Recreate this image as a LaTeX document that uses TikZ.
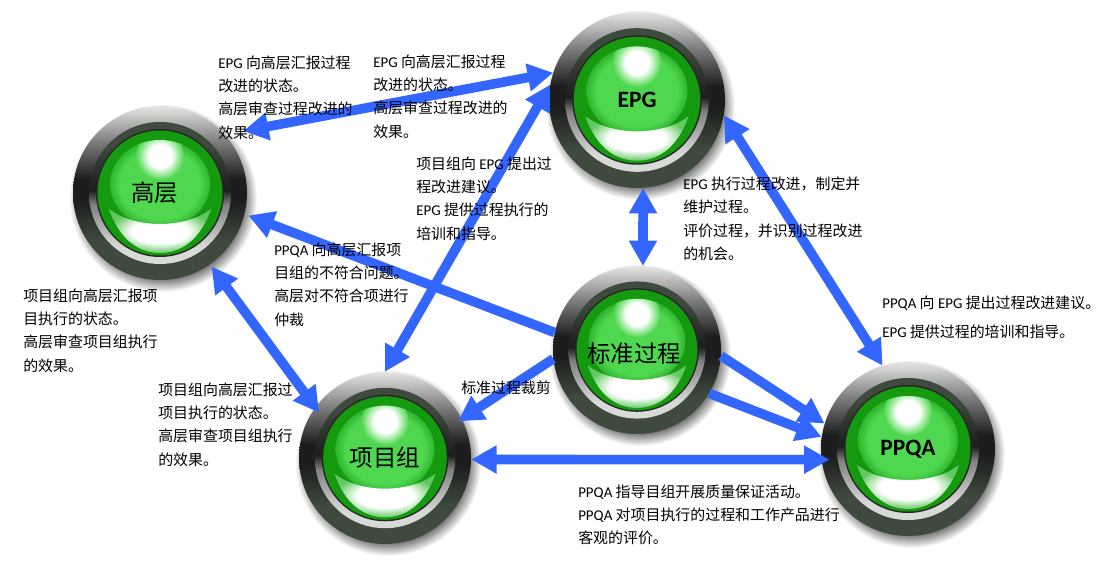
\documentclass[tikz,border=0pt]{standalone}
\usepackage{fontspec}
\setmainfont{Noto Sans CJK SC}
\newfontfamily\latfont{Carlito}
\usetikzlibrary{arrows.meta,backgrounds}
\pgfdeclarelayer{lamps}
\pgfsetlayers{background,lamps,main}
\definecolor{flowblue}{HTML}{3366FF}
\definecolor{bezeltop}{HTML}{E4E6E4}
\definecolor{bezelmid}{HTML}{1C1D1C}
\definecolor{bezellow}{HTML}{3F4A3F}
\definecolor{ringlight}{HTML}{D8DAD8}
\definecolor{greenbase}{HTML}{14990F}
\definecolor{greenlight}{HTML}{4FD84F}
\definecolor{greensoft}{HTML}{2FB52F}
\definecolor{crescentend}{HTML}{62C862}
% a tikz path covers 25bp to 75bp of a shading
\pgfdeclareverticalshading{bezelouter}{100bp}{color(0bp)=(bezellow); color(36bp)=(bezellow); color(48bp)=(bezelmid); color(54bp)=(bezelmid); color(65bp)=(gray); color(75bp)=(bezeltop); color(100bp)=(bezeltop)}
\pgfdeclareverticalshading{bezelinner}{100bp}{color(0bp)=(ringlight); color(31bp)=(ringlight); color(46bp)=(gray); color(51bp)=(bezelmid); color(67bp)=(bezellow); color(100bp)=(bezellow)}
\pgfdeclareradialshading{lampshadow}{\pgfpointorigin}{color(0bp)=(black!75); color(20bp)=(black!75); color(25bp)=(white); color(50bp)=(white)}
\pgfdeclareradialshading{domeshade}{\pgfpointorigin}{color(0bp)=(greenlight); color(20bp)=(greenlight); color(25bp)=(greensoft); color(50bp)=(greensoft)}
\pgfdeclareradialshading{spotshade}{\pgfpointorigin}{color(0bp)=(white); color(12bp)=(white); color(25bp)=(greenlight); color(50bp)=(greenlight)}
\pgfdeclareradialshading{crescentshade}{\pgfpointorigin}{color(0bp)=(white); color(14bp)=(white); color(25bp)=(crescentend); color(50bp)=(crescentend)}
\newcommand{\lat}[1]{{\latfont #1}}
\newcommand{\lampparts}{%
  \shade[shading=bezelouter] (0,0) circle (87);
  \shade[shading=bezelinner] (0,0) circle (71);
  \fill[black!85] (0,0) circle (64);
  \fill[greenbase] (0,0) circle (62.5);
  \shade[shading=domeshade] (0,-9) ellipse (50 and 44);
  \begin{scope}
    \clip (0,-9) ellipse (50 and 44);
    \shade[shading=spotshade] (0,-37) circle (24);
  \end{scope}
  \shade[shading=crescentshade] (-51,16) .. controls (-25,36) and (25,36) .. (51,16)
    .. controls (40,48) and (20,60) .. (0,60) .. controls (-20,60) and (-40,48) .. (-51,16) -- cycle;
}
\tikzset{
  lamp/.style={circle,inner sep=0pt,minimum size=#1*1.5pt,font=\fontsize{17.6}{18}\selectfont},
  flow/.style={line width=7.2pt,color=flowblue,-{Triangle[length=19pt,width=20pt]}},
  biflow/.style={flow,{Triangle[length=19pt,width=20pt]}-{Triangle[length=19pt,width=20pt]}},
  note/.style={anchor=north west,inner sep=0pt,align=left,font=\fontsize{11.2}{17.3}\selectfont}
}
\begin{document}
\begin{tikzpicture}[x=0.75pt,y=-0.75pt]
\useasboundingbox (0,0) rectangle (1119,567);
% lamps
\node[lamp=87] (gaoceng) at (160,193) {高层\kern8pt};
\node[lamp=88] (epg) at (637,100) {\lat{\bfseries EPG}};
\node[lamp=84,text height=20pt] (biaozhun) at (637,350) {标准过程\kern4.5pt};
\node[lamp=86] (xiangmu) at (385,458) {项目组};
\node[lamp=87] (ppqa) at (908,449) {\lat{\bfseries PPQA}};
\begin{scope}[on background layer]
\foreach \n/\r in {gaoceng/87,epg/88,biaozhun/84,xiangmu/86,ppqa/87}
  \shade[shading=lampshadow,shift={(\n)}] (3,5) circle (\r+7);
\end{scope}
\begin{pgfonlayer}{lamps}
\foreach \n/\r in {gaoceng/87,epg/88,biaozhun/84,xiangmu/86,ppqa/87}
  \begin{scope}[shift={(\n)},scale=\r/87]\lampparts\end{scope};
% connectors
\draw[biflow,shorten >=14pt] (epg.162.4) -- (gaoceng.42.3);
\draw[biflow] (epg.170) -- (xiangmu.90);
\draw[biflow] (epg.-10) -- (ppqa.107.8);
\draw[biflow] (epg.-86) -- (biaozhun.86);
\draw[flow,shorten >=3pt] (biaozhun.168) -- (gaoceng.-14);
\draw[biflow,shorten <=2pt,shorten >=-5pt] (gaoceng.-55.6) -- (xiangmu.144.4);
\draw[flow,shorten >=-3.5pt] (biaozhun.186) -- (xiangmu.27.8);
\draw[flow] (biaozhun.-4.7) -- (ppqa.163.9);
\draw[flow] (biaozhun.-31) -- (ppqa.172);
\draw[biflow,shorten >=-6pt] (xiangmu.-1.4) -- (ppqa.187.3);
\end{pgfonlayer}
% notes
\node[note] (noteA) at (218,56) {\lat{EPG} 向高层汇报过程\\改进的状态。\\高层审查过程改进的\\效果。};
\node[note] (noteB) at (373,55) {\lat{EPG} 向高层汇报过程\\改进的状态。\\高层审查过程改进的\\效果。};
\node[note] (noteC) at (416,157) {项目组向 \lat{EPG} 提出过\\程改进建议。\\\lat{EPG} 提供过程执行的\\培训和指导。};
\node[note] (noteD) at (683,177) {\lat{EPG} 执行过程改进，制定并\\维护过程。\\评价过程，并识别过程改进\\的机会。};
\node[note] (noteE) at (882,296) {\lat{PPQA} 向 \lat{EPG} 提出过程改进建议。};
\node[note] (noteF) at (882,325) {\lat{EPG} 提供过程的培训和指导。};
\node[note] (noteG) at (274,243) {\lat{PPQA} 向高层汇报项\\目组的不符合问题。\\高层对不符合项进行\\仲裁};
\node[note] (noteH) at (23,289) {项目组向高层汇报项\\目执行的状态。\\高层审查项目组执行\\的效果。};
\node[note] (noteI) at (158,383) {项目组向高层汇报过\\项目执行的状态。\\高层审查项目组执行\\的效果。};
\node[note] (noteJ) at (461,381) {标准过程裁剪};
\node[note] (noteK) at (578,485) {\lat{PPQA} 指导目组开展质量保证活动。\\\lat{PPQA} 对项目执行的过程和工作产品进行\\客观的评价。};
\end{tikzpicture}
\end{document}
